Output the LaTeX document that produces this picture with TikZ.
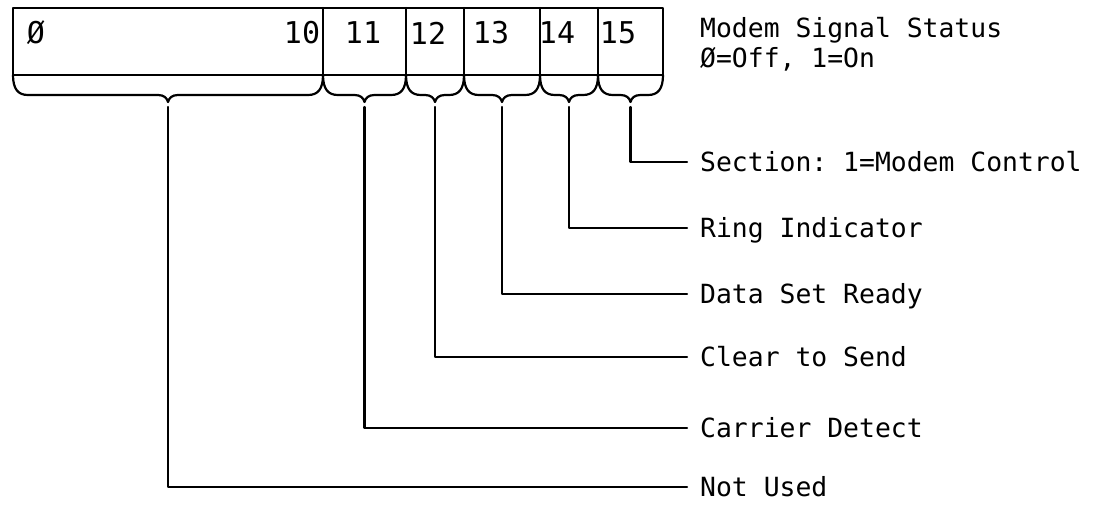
\documentclass[tikz,border=0pt]{standalone}
\usepackage{fontspec}
\setmonofont{DejaVu Sans Mono}
\usetikzlibrary{positioning}

\tikzset{
  regline/.style={line width=2.2pt, line cap=round, line join=round},
  bitnum/.style={font=\ttfamily\fontsize{30}{30}\selectfont, inner sep=0pt},
  headtext/.style={font=\ttfamily\fontsize{26.4}{30}\selectfont, inner sep=0pt, anchor=base west},
  fieldlabel/.style={font=\ttfamily\fontsize{26.4}{30}\selectfont, anchor=west,
    text height=19pt, text depth=0pt, inner xsep=13pt, inner ysep=0pt},
}

\begin{document}
\begin{tikzpicture}[x=1pt, y=-1pt]
  \useasboundingbox (0,0) rectangle (1097,504);

  % register frame and cell walls
  \draw[regline] (13,8) rectangle (663,75);
  \foreach \x in {323,406,464,540,598}{
    \draw[regline] (\x,8) -- (\x,75);
  }

  % bit numbers
  \node[bitnum] (b0)  at (36,33)  {Ø};
  \node[bitnum] (b10) at (302,33) {10};
  \node[bitnum] (b11) at (363,33) {11};
  \node[bitnum] (b12) at (428,33) {12};
  \node[bitnum] (b13) at (491,33) {13};
  \node[bitnum] (b14) at (557,33) {14};
  \node[bitnum] (b15) at (618,33) {15};

  % heading
  \node[headtext] (title) at (700,37) {Modem Signal Status};
  \node[headtext] (titlesub) at (700,67) {Ø=Off, 1=On};

  % braces, field names and leaders
  \foreach \a/\b/\k/\y/\txt in {
      13/323/0/487/Not Used,
      323/406/11/428/Carrier Detect,
      406/464/12/357/Clear to Send,
      464/540/13/294/Data Set Ready,
      540/598/14/228/Ring Indicator,
      598/663/15/162/Section: 1=Modem Control}{
    \pgfmathsetmacro{\m}{(\a+\b)/2}
    \draw[regline] (\a,75) .. controls (\a,89) and (\a+5,95) .. (\a+15,95)
      -- (\m-10,95) .. controls (\m-4,95) and (\m-1,98) .. (\m,102)
      .. controls (\m+1,98) and (\m+4,95) .. (\m+10,95)
      -- (\b-15,95) .. controls (\b-5,95) and (\b,89) .. (\b,75);
    \coordinate (tip\k) at (\m,107);
    \node[fieldlabel] (lab\k) at (687,\y) {\txt};
    \draw[regline] (tip\k) |- (lab\k.west);
  }
\end{tikzpicture}
\end{document}
